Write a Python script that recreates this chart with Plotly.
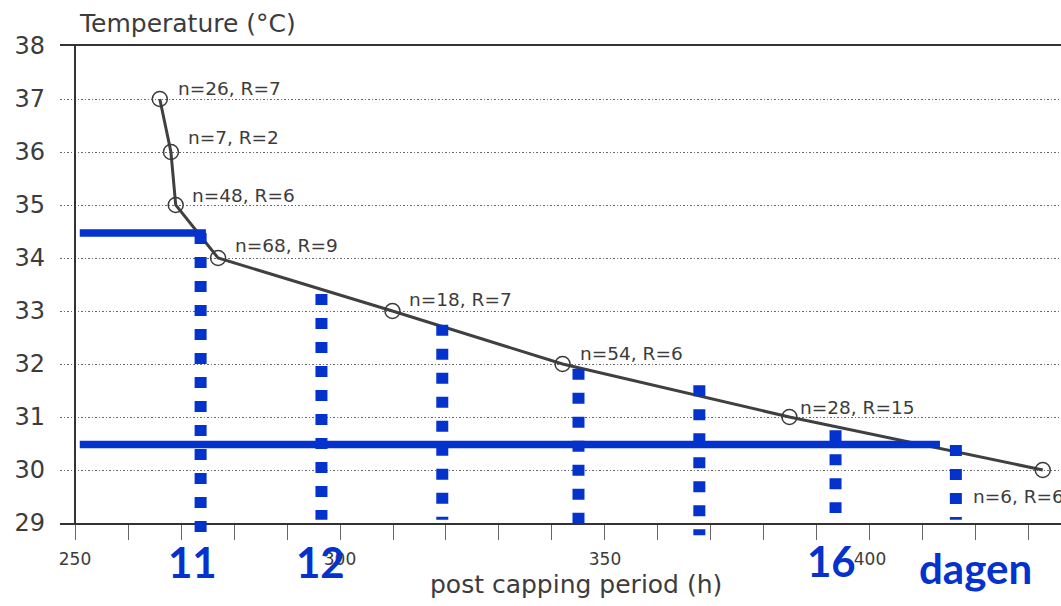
import plotly.graph_objects as go

# ---------------- data ----------------
temps = [37, 36, 35, 34, 33, 32, 31, 30]
hours = [266.0, 268.1, 269.0, 277.0, 309.9, 342.0, 384.8, 432.6]
n_vals = [26, 7, 48, 68, 18, 54, 28, 6]
r_vals = [7, 2, 6, 9, 7, 6, 15, 6]

# blue overlay: horizontal reference lines (temperature, start h, end h)
ref_temps = [34.47, 30.48]
ref_start = [250.9, 250.9]
ref_end = [274.7, 413.2]

# blue overlay: vertical dotted lines (hour, top temp, bottom temp)
day_hours = [273.7, 296.5, 319.3, 345.0, 367.8, 393.5, 416.2]
day_top = [34.47, 33.32, 32.74, 31.91, 31.60, 30.75, 30.47]
day_bottom = [28.81, 29.06, 29.06, 28.96, 28.77, 29.19, 29.06]

# blue day labels
day_labels = ["11", "12", "16", "dagen"]
day_label_hours = [272.1, 296.3, 392.8, 419.9]

x_ticks_major = [250, 300, 350, 400]
y_ticks = [29, 30, 31, 32, 33, 34, 35, 36, 37, 38]

# ---------------- style ----------------
X_MIN, X_MAX = 247.17, 436.04
Y_MIN, Y_MAX = 29, 38
BLUE = "#0332CC"
INK = "#3c3c3c"
FONT = "DejaVu Sans"

# label offsets (pixels) for the n/R annotations
lab_dx = [16, 15, 14, 15, 15, 15, 9, -72]
lab_dy = [11, 15, 10, 13, 12, 11, 10, -26]
day_label_py = [-0.082, -0.082, -0.080, -0.094]


def t2p(t):
    return (t - Y_MIN) / (Y_MAX - Y_MIN)


fig = go.Figure()
fig.add_trace(go.Scatter(
    x=hours, y=temps, mode="lines+markers",
    line=dict(color="#404040", width=3),
    marker=dict(symbol="circle-open", size=15, color="#3a3a3a",
                line=dict(width=1.5, color="#3a3a3a")),
    cliponaxis=False, hoverinfo="skip", showlegend=False,
))

shapes = []
# y axis line at x = 250
shapes.append(dict(type="line", xref="x", yref="paper", x0=250, x1=250, y0=0, y1=1,
                   line=dict(color="#333333", width=2)))
for t, a, b in zip(ref_temps, ref_start, ref_end):
    shapes.append(dict(type="line", xref="x", yref="y", x0=a, x1=b, y0=t, y1=t,
                       line=dict(color=BLUE, width=7.5)))
for h, top, bot in zip(day_hours, day_top, day_bottom):
    shapes.append(dict(type="line", xref="x", yref="paper", x0=h, x1=h,
                       y0=t2p(top), y1=t2p(bot),
                       line=dict(color=BLUE, width=12, dash="11px,13px")))

annotations = []
for h, t, n, r, dx, dy in zip(hours, temps, n_vals, r_vals, lab_dx, lab_dy):
    annotations.append(dict(x=h, y=t, xref="x", yref="y", text=f"n={n}, R={r}",
                            showarrow=False, xanchor="left", yanchor="middle",
                            xshift=dx, yshift=dy,
                            font=dict(family=FONT, size=18.5, color=INK)))
for lab, h, py in zip(day_labels, day_label_hours, day_label_py):
    annotations.append(dict(x=h, y=py, xref="x", yref="paper", text=lab,
                            showarrow=False, xanchor="center", yanchor="middle",
                            font=dict(family="Lato", size=42, color=BLUE, weight="bold")))
annotations.append(dict(x=0.017, y=1.048, xref="paper", yref="paper",
                        text="Temperature (°C)", showarrow=False,
                        xanchor="left", yanchor="middle",
                        font=dict(family=FONT, size=25, color=INK)))
annotations.append(dict(x=0.5155, y=-0.128, xref="paper", yref="paper",
                        text="post capping period (h)", showarrow=False,
                        xanchor="center", yanchor="middle",
                        font=dict(family=FONT, size=25, color=INK)))

fig.update_layout(
    width=1061, height=606, autosize=False,
    margin=dict(l=60, r=0, t=46, b=83),
    paper_bgcolor="white", plot_bgcolor="white",
    shapes=shapes, annotations=annotations,
    xaxis=dict(range=[X_MIN, X_MAX], tickvals=x_ticks_major,
               showgrid=False, zeroline=False,
               showline=True, mirror=True, linecolor="#333333", linewidth=2,
               ticks="outside", ticklen=15, tickwidth=1.2, tickcolor="#666666",
               minor=dict(dtick=10, tick0=250, ticks="outside", ticklen=15,
                          tickwidth=1.2, tickcolor="#666666", showgrid=False),
               ticklabelstandoff=5,
               tickfont=dict(family=FONT, size=17, color=INK)),
    yaxis=dict(range=[Y_MIN, Y_MAX], tickvals=y_ticks,
               showgrid=True, gridcolor="#6a6a6a", gridwidth=1, griddash="1.5px,2px",
               zeroline=False, showline=False, ticks="",
               ticklabelstandoff=14,
               tickfont=dict(family=FONT, size=24, color=INK)),
)

fig.write_html("out.html", config={"displayModeBar": False},
               post_script="document.body.style.margin='0';")
